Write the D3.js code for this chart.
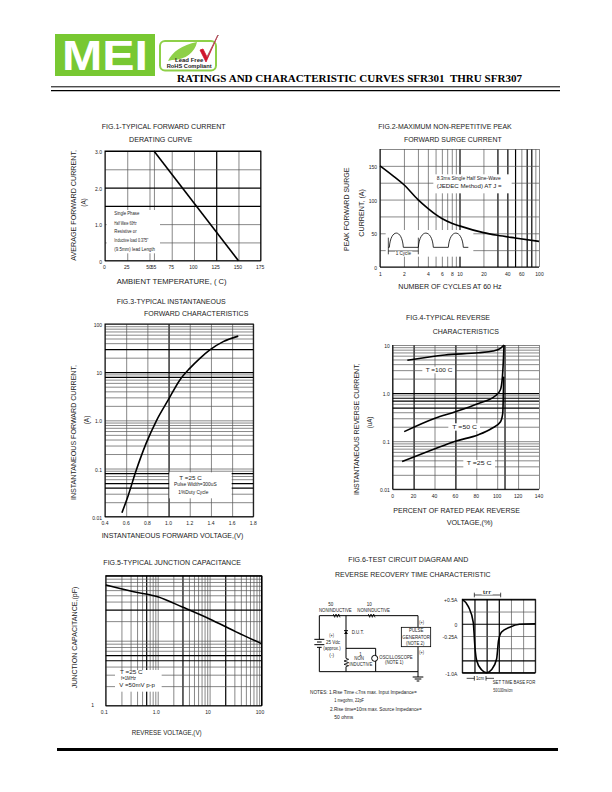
<!DOCTYPE html>
<html>
<head>
<meta charset="utf-8">
<title>SFR301 thru SFR307 curves</title>
<script src="https://cdn.jsdelivr.net/npm/d3@7"></script>
<style>
  html, body { margin: 0; padding: 0; background: #fff; }
  svg { display: block; }
  text { font-family: "Liberation Sans", Arial, sans-serif; fill: #222; }
</style>
</head>
<body>
<div id="page"></div>
<script>
// fig 1 - derating curve
var fig1Temp = [55, 150];
var fig1Amps = [3, 0];
var fig1GridX = [0, 25, 50, 55, 75, 100, 125, 150, 175];
var fig1BoldX = [125];
var fig1GridY = [0, 0.5, 1, 1.5, 2, 2.5, 3];
var fig1BoldY = [1.5, 2, 3];
var fig1TickX = [0, 25, 50, 55, 75, 100, 125, 150, 175];
var fig1TickXLabels = ["0", "25", "50", "55", "75", "100", "125", "150", "175"];
var fig1TickY = [0, 1, 2, 3];
var fig1TickYLabels = ["0", "1.0", "2.0", "3.0"];

// fig 2 - surge current
var fig2Cycles = [1, 1.5, 2, 3, 4, 5, 6, 8, 10, 20, 30, 50, 100];
var fig2Amps = [150, 134, 122, 100, 87, 78, 72, 65, 61, 51, 47, 43, 38];
var fig2GridX = [1, 2, 3, 4, 5, 6, 7, 8, 9, 10, 20, 30, 40, 50, 60, 70, 80, 90, 100];
var fig2BoldX = [10, 30, 40, 50, 70, 80];
var fig2GridY = [0, 25, 50, 75, 100, 125, 150, 175];
var fig2TickX = [1, 2, 4, 6, 8, 10, 20, 40, 60, 100];
var fig2TickY = [0, 50, 100, 150];

// fig 3 - forward characteristics
var fig3Volts = [0.56, 0.62, 0.69, 0.79, 0.885, 0.997, 1.107, 1.2, 1.296, 1.39, 1.516, 1.658];
var fig3Amps = [0.0121, 0.028, 0.0855, 0.34, 0.98, 2.65, 6.9, 12, 19.4, 29, 43, 56];
var fig3GridX = [0.4, 0.6, 0.8, 1.0, 1.2, 1.4, 1.6, 1.8];
var fig3BoldX = [1.0];
var fig3BoldY = [30, 10, 8, 0.08, 0.05, 0.04];
var fig3TickX = [0.4, 0.6, 0.8, 1.0, 1.2, 1.4, 1.6, 1.8];
var fig3TickY = [0.01, 0.1, 1, 10, 100];
var fig3TickYLabels = ["0.01", "0.1", "1.0", "10", "100"];

// fig 4 - reverse characteristics
var fig4Pct100 = [14, 50, 82, 96, 103, 106.5];
var fig4Cur100 = [4.8, 6.2, 6.9, 7.5, 8.5, 10];
var fig4Pct50 = [11, 40.5, 60, 82, 98, 103, 105, 106.2, 106.5];
var fig4Cur50 = [0.158, 0.3, 0.41, 0.61, 0.87, 1.16, 2.2, 6.7, 10];
var fig4Pct25 = [9, 40.5, 60, 82, 95, 103, 105.3, 106.2];
var fig4Cur25 = [0.0377, 0.07, 0.1, 0.136, 0.186, 0.25, 0.38, 2.2];
var fig4GridX = [0, 20, 40, 60, 80, 100, 107, 120, 140];
var fig4BoldX = [20, 60, 107];
var fig4BoldY = [1, 0.8, 0.7, 0.5];
var fig4TickX = [0, 20, 40, 60, 80, 100, 120, 140];
var fig4TickY = [0.01, 0.1, 1, 10];
var fig4TickYLabels = ["0.01", "0.1", "1.0", "10"];

// fig 5 - junction capacitance
var fig5Volts = [0.1, 0.345, 1, 3.07, 10, 31.6, 100];
var fig5Cap = [72, 56.7, 47.5, 32.6, 21.6, 13.8, 9];
var fig5BoldX = [0.6, 3, 20, 100];
var fig5BoldY = [100, 30, 6, 5];
var fig5TickX = [0.1, 1, 10, 100];
var fig5TickXLabels = ["0.1", "1.0", "10", "100"];

// fig 6 - reverse recovery waveform, time in divisions
var waveDiv = [0, 0.5, 0.9, 1.04, 1.18, 1.58, 2, 2.4, 2.82, 2.98, 3.23, 3.9, 4.7, 6];
var waveAmps = [0.5, 0.35, 0.03, -0.48, -0.75, -0.94, -1, -0.94, -0.72, -0.34, -0.17, -0.07, -0.01, 0];
var waveGridX = [0, 1, 2, 3, 4, 5, 6];
var waveBoldX = [1, 2, 3];
var waveGridY = [-1, -0.75, -0.5, -0.25, 0, 0.25, 0.5];
var waveBoldY = [-0.75, 0, 0.5, -1];
var waveTickY = [-1, -0.25, 0, 0.5];
var waveTickYLabels = ["-1.0A", "-0.25A", "0", "+0.5A"];

var logMinor = function (lo, hi) {
    var out = [];
    for (var dec = lo; dec < hi; dec *= 10) {
        for (var m = 1; m < 10; m++) out.push(dec * m);
    }
    out.push(hi);
    return out;
};

var svg = d3.select("#page").append("svg")
    .attr("width", 612)
    .attr("height", 792)
    .attr("viewBox", "0 0 612 792");

// text helpers - x, y given in zoomed reference units (1/3 px) from a figure origin
function label(o, x0, base, str, x1, size, weight) {
    var t = svg.append("text")
        .attr("x", o[0] + x0 / 3)
        .attr("y", o[1] + base / 3)
        .style("font-size", (size || 7) + "px")
        .text(str);
    if (weight) t.style("font-weight", weight);
    if (x1) t.attr("textLength", (x1 - x0) / 3).attr("lengthAdjust", "spacingAndGlyphs");
    return t;
}

function vlabel(o, cx, y0, y1, str, size) {
    var px = o[0] + cx / 3, py = o[1] + y0 / 3;
    svg.append("text")
        .attr("transform", "translate(" + px + "," + py + ") rotate(-90)")
        .attr("textLength", (y0 - y1) / 3)
        .attr("lengthAdjust", "spacingAndGlyphs")
        .style("font-size", (size || 8) + "px")
        .text(str);
}

// white patch behind notes
function mask(o, x0, y0, x1, y1) {
    svg.append("rect")
        .attr("x", o[0] + x0 / 3).attr("y", o[1] + y0 / 3)
        .attr("width", (x1 - x0) / 3).attr("height", (y1 - y0) / 3)
        .attr("fill", "#fff");
}

function drawGrid(x, y, gridX, gridY, boldX, boldY) {
    var r = y.range(), w = x.range()[1] - x.range()[0], h = r[0] - r[1];
    var isBold = function (list, d) {
        return list.some(function (b) { return Math.abs(b - d) < 1e-9; });
    };
    var gx = svg.append("g")
        .attr("transform", "translate(0," + r[0] + ")")
        .call(d3.axisBottom(x).tickValues(gridX).tickSize(-h).tickFormat("").tickSizeOuter(0));
    gx.select(".domain").remove();
    gx.selectAll("line")
        .attr("stroke", function (d) { return isBold(boldX, d) ? "#000" : "#555"; })
        .attr("stroke-width", function (d) { return isBold(boldX, d) ? 1.2 : 0.7; });
    var gy = svg.append("g")
        .attr("transform", "translate(" + x.range()[0] + ",0)")
        .call(d3.axisLeft(y).tickValues(gridY).tickSize(-w).tickFormat("").tickSizeOuter(0));
    gy.select(".domain").remove();
    gy.selectAll("line")
        .attr("stroke", function (d) { return isBold(boldY, d) ? "#000" : "#555"; })
        .attr("stroke-width", function (d) { return isBold(boldY, d) ? 1.2 : 0.7; });
}

function drawFrame(x, y) {
    svg.append("rect")
        .attr("x", x.range()[0]).attr("y", y.range()[1])
        .attr("width", x.range()[1] - x.range()[0])
        .attr("height", y.range()[0] - y.range()[1])
        .attr("fill", "none").attr("stroke", "#000").attr("stroke-width", 1);
}

function drawTicks(x, y, tickX, xLabels, tickY, yLabels, dx, dy) {
    var ax = svg.append("g")
        .attr("transform", "translate(" + dx + "," + y.range()[0] + ")")
        .call(d3.axisBottom(x).tickValues(tickX).tickSize(0).tickPadding(5)
            .tickFormat(function (d, i) { return xLabels[i]; }));
    var ay = svg.append("g")
        .attr("transform", "translate(" + (x.range()[0] - 3) + "," + dy + ")")
        .call(d3.axisLeft(y).tickValues(tickY).tickSize(0).tickPadding(0)
            .tickFormat(function (d, i) { return yLabels[i]; }));
    [ax, ay].forEach(function (g) {
        g.select(".domain").remove();
        g.selectAll("text").style("font-size", "5px").style("font-family", null).attr("fill", "#222");
    });
}

function drawCurve(x, y, xs, ys, curve) {
    var pts = d3.zip(xs, ys);
    svg.append("path")
        .attr("d", d3.line()
            .x(function (d) { return x(d[0]); })
            .y(function (d) { return y(d[1]); })
            .curve(curve || d3.curveMonotoneX)(pts))
        .attr("fill", "none")
        .attr("stroke", "#000")
        .attr("stroke-width", 1.6);
}

// header -------------------------------------------------------------
svg.append("rect").attr("x", 55).attr("y", 34).attr("width", 100).attr("height", 42).attr("fill", "#78c832");
svg.append("text").attr("x", 62).attr("y", 70)
    .attr("textLength", 86).attr("lengthAdjust", "spacingAndGlyphs")
    .style("font-size", "43px").style("font-weight", "bold").style("fill", "#fff").text("MEI");

svg.append("rect").attr("x", 160).attr("y", 41).attr("width", 56).attr("height", 29.5).attr("rx", 5)
    .attr("fill", "#fff").attr("stroke", "#8ed048").attr("stroke-width", 2);
svg.append("path").attr("d", "M168,61 C172,52 182,45 197,42 C195,52 186,60 172,60 Z").attr("fill", "#8ed048");
svg.append("path").attr("d", "M200,50 L206,62 L218,35 L207,57 L203,49 Z").attr("fill", "#d0142c").attr("stroke", "#d0142c").attr("stroke-width", 0.8);
svg.append("path").attr("d", "M207,57 L218,35 L219,36").attr("fill", "none").attr("stroke", "#888").attr("stroke-width", 0.6);
label([40, 20], 405, 125, "Lead Free", 490, 4.5, "bold");
label([40, 20], 380, 143, "RoHS Compliant", 515, 4.5, "bold");

svg.append("text").attr("x", 177).attr("y", 81.5)
    .attr("textLength", 345).attr("lengthAdjust", "spacingAndGlyphs")
    .style("font-family", "'Liberation Serif', 'Times New Roman', serif")
    .style("font-size", "9.7px").style("font-weight", "bold").style("fill", "#000")
    .text("RATINGS AND CHARACTERISTIC CURVES SFR301\u00a0 THRU SFR307");
[[86.8, 1], [90.6, 1.2]].forEach(function (d) {
    svg.append("line").attr("x1", 51).attr("x2", 560).attr("y1", d[0]).attr("y2", d[0])
        .attr("stroke", "#000").attr("stroke-width", d[1]);
});
svg.append("rect").attr("x", 57).attr("y", 748).attr("width", 501).attr("height", 3).attr("fill", "#000");

// fig 1 --------------------------------------------------------------
(function () {
    var o = [60, 115];
    var x = d3.scaleLinear().domain([0, 175]).range([105, 260.7]);
    var y = d3.scaleLinear().domain([0, 3]).range([260.7, 151]);
    drawGrid(x, y, fig1GridX, fig1GridY, fig1BoldX, fig1BoldY);
    mask(o, 140, 285, 300, 415);
    drawFrame(x, y);
    drawCurve(x, y, fig1Temp, fig1Amps, d3.curveLinear);
    drawTicks(x, y, fig1TickX, fig1TickXLabels, fig1TickY, fig1TickYLabels, -1, 1);
    label(o, 125, 42, "FIG.1-TYPICAL FORWARD CURRENT", 497);
    label(o, 207, 80, "DERATING CURVE", 397);
    vlabel(o, 48, 437, 105, "AVERAGE FORWARD CURRENT,");
    vlabel(o, 78, 275, 250, "(A)");
    label(o, 170, 507, "AMBIENT TEMPERATURE, (     C)", 500, 7.5);
    label(o, 163, 300, "Single Phase", 238, 4.5);
    label(o, 163, 329, "Half Wave 60Hz", 230, 4.5);
    label(o, 163, 355, "Resistive or", 230, 4.5);
    label(o, 163, 381, "Inductive load 0.375\"", 265, 4.5);
    label(o, 163, 407, "(9.5mm) lead Length", 285, 4.5);
})();

// fig 2 --------------------------------------------------------------
(function () {
    var o = [335, 115];
    var x = d3.scaleLog().domain([1, 100]).range([380, 539]);
    var y = d3.scaleLinear().domain([0, 175]).range([267, 149]);
    drawGrid(x, y, fig2GridX, fig2GridY, fig2BoldX, []);
    mask(o, 295, 178, 530, 235);
    mask(o, 152, 345, 415, 425);
    // top edge stays open in the reference, only left + bottom are ruled
    svg.append("line").attr("x1", 380).attr("x2", 380).attr("y1", 149).attr("y2", 267).attr("stroke", "#000");
    svg.append("line").attr("x1", 380).attr("x2", 539).attr("y1", 267).attr("y2", 267).attr("stroke", "#000");
    drawCurve(x, y, fig2Cycles, fig2Amps);
    drawTicks(x, y, fig2TickX, fig2TickX.map(String), fig2TickY, fig2TickY.map(String), 0, 1);
    label(o, 130, 42, "FIG.2-MAXIMUM NON-REPETITIVE PEAK", 530);
    label(o, 207, 80, "FORWARD SURGE CURRENT", 500);
    vlabel(o, 42, 408, 158, "PEAK FORWARD SURGE");
    vlabel(o, 86, 365, 222, "CURRENT, (A)");
    label(o, 190, 523, "NUMBER OF CYCLES AT 60 Hz", 500, 7.5);
    label(o, 305, 196, "8.3ms Single Half Sine-Wave", 497, 4.5);
    label(o, 305, 218, "(JEDEC Method)     AT      J  =", 500, 4.5);
    // half sine pictogram
    var px = function (v) { return o[0] + v / 3; }, py = function (v) { return o[1] + v / 3; };
    var sine = "M" + px(160) + "," + py(397) + " L" + px(163) + "," + py(397);
    [[163, 205], [250, 295], [340, 385]].forEach(function (h, i) {
        if (i) sine += " L" + px(h[0]) + "," + py(397);
        sine += " C" + px(h[0] + 4) + "," + py(340) + " " + px(h[1] - 4) + "," + py(340) + " " + px(h[1]) + "," + py(397);
    });
    sine += " L" + px(400) + "," + py(397);
    svg.append("path").attr("d", sine).attr("fill", "none").attr("stroke", "#000").attr("stroke-width", 0.8);
    svg.append("path")
        .attr("d", "M" + px(160) + "," + py(368) + " V" + py(418) + " M" + px(160) + "," + py(408) + " H" + px(250) + " M" + px(250) + "," + py(368) + " V" + py(418))
        .attr("fill", "none").attr("stroke", "#000").attr("stroke-width", 0.7);
    mask(o, 180, 409, 232, 422);
    label(o, 182, 419, "1 Cycle", 228, 4.5);
})();

// fig 3 --------------------------------------------------------------
(function () {
    var o = [60, 295];
    var x = d3.scaleLinear().domain([0.4, 1.8]).range([105, 253.3]);
    var y = d3.scaleLog().domain([0.01, 100]).range([516.7, 324]);
    drawGrid(x, y, fig3GridX, logMinor(0.01, 100), fig3BoldX, fig3BoldY);
    mask(o, 328, 532, 515, 610);
    drawFrame(x, y);
    drawCurve(x, y, fig3Volts, fig3Amps);
    drawTicks(x, y, fig3TickX, fig3TickX.map(function (d) { return d.toFixed(1); }), fig3TickY, fig3TickYLabels, -0.5, 1);
    label(o, 170, 28, "FIG.3-TYPICAL INSTANTANEOUS", 497);
    label(o, 252, 62, "FORWARD CHARACTERISTICS", 565);
    vlabel(o, 48, 615, 210, "INSTANTANEOUS FORWARD CURRENT,");
    vlabel(o, 88, 388, 362, "(A)");
    label(o, 125, 728, "INSTANTANEOUS FORWARD VOLTAGE,(V)", 550, 7.5);
    label(o, 358, 556, "T =25     C", 425, 4.5);
    label(o, 342, 574, "Pulse Width=300uS", 470, 4.5);
    label(o, 355, 596, "1%Duty Cycle", 445, 4.5);
})();

// fig 4 --------------------------------------------------------------
(function () {
    var o = [345, 310];
    var x = d3.scaleLinear().domain([0, 140]).range([392.7, 539]);
    var y = d3.scaleLog().domain([0.01, 10]).range([489.3, 345]);
    drawGrid(x, y, fig4GridX, logMinor(0.01, 10), fig4BoldX, fig4BoldY);
    mask(o, 232, 170, 330, 190);
    mask(o, 310, 340, 405, 362);
    mask(o, 355, 450, 450, 475);
    svg.append("line").attr("x1", 392.7).attr("x2", 392.7).attr("y1", 345).attr("y2", 489.3).attr("stroke", "#000");
    svg.append("line").attr("x1", 392.7).attr("x2", 539).attr("y1", 489.3).attr("y2", 489.3).attr("stroke", "#000");
    drawCurve(x, y, fig4Pct100, fig4Cur100);
    drawCurve(x, y, fig4Pct50, fig4Cur50);
    drawCurve(x, y, fig4Pct25, fig4Cur25);
    drawTicks(x, y, fig4TickX, fig4TickX.map(String), fig4TickY, fig4TickYLabels, -0.5, 1);
    label(o, 183, 30, "FIG.4-TYPICAL REVERSE", 435);
    label(o, 263, 72, "CHARACTERISTICS", 462);
    vlabel(o, 42, 555, 160, "INSTANTANEOUS REVERSE CURRENT,");
    vlabel(o, 82, 355, 320, "(uA)");
    label(o, 145, 610, "PERCENT OF RATED PEAK REVERSE", 525, 7.5);
    label(o, 305, 645, "VOLTAGE,(%)", 443, 7.5);
    label(o, 242, 185, "T =100    C", 322, 4.5);
    label(o, 322, 356, "T =50     C", 396, 4.5);
    label(o, 365, 466, "T =25     C", 440, 4.5);
})();

// fig 5 --------------------------------------------------------------
(function () {
    var o = [60, 550];
    var x = d3.scaleLog().domain([0.1, 100]).range([105.8, 261.5]);
    var y = d3.scaleLog().domain([1, 100]).range([705.7, 575.7]);
    drawGrid(x, y, logMinor(0.1, 100), logMinor(1, 100), fig5BoldX, fig5BoldY);
    mask(o, 165, 360, 305, 425);
    drawFrame(x, y);
    drawCurve(x, y, fig5Volts, fig5Cap);
    drawTicks(x, y, fig5TickX, fig5TickXLabels, [], [], -2, 0);
    label(o, 94, 472, "1", null, 5);
    label(o, 130, 45, "FIG.5-TYPICAL JUNCTION CAPACITANCE", 543);
    vlabel(o, 52, 415, 110, "JUNCTION CAPACITANCE,(pF)");
    label(o, 215, 555, "REVRESE VOLTAGE,(V)", 425, 7.5);
    label(o, 180, 373, "T =25     C", 248, 4.5);
    label(o, 183, 389, "f=1MHz", 228, 4.5);
    label(o, 178, 411, "V    =50mV  p-p", 285, 4.5);
})();

// fig 6 circuit ------------------------------------------------------
(function () {
    var o = [300, 550];
    var p = function (v) { return o[0] + v / 3; }, q = function (v) { return o[1] + v / 3; };
    var wire = function (pts, w) {
        svg.append("path")
            .attr("d", d3.line().x(function (d) { return p(d[0]); }).y(function (d) { return q(d[1]); })(pts))
            .attr("fill", "none").attr("stroke", "#000").attr("stroke-width", w || 1);
    };
    label(o, 145, 35, "FIG.6-TEST CIRCUIT DIAGRAM AND", 505);
    label(o, 105, 80, "REVERSE RECOVERY TIME CHARACTERISTIC", 572);

    wire([[58, 268], [58, 197], [354, 197], [354, 232]]);
    wire([[58, 292], [58, 365], [354, 365]]);
    wire([[138, 197], [138, 325]]);
    wire([[138, 350], [138, 365]]);
    wire([[138, 295], [227, 295], [227, 365]]);
    wire([[354, 290], [354, 381]]);
    // resistors sit on the top wire
    wire([[100, 192], [104, 202], [108, 192], [112, 202], [116, 192], [120, 202]], 0.8);
    wire([[205, 192], [209, 202], [213, 192], [217, 202], [221, 192], [225, 202]], 0.8);
    // battery
    wire([[43, 268], [73, 268]]);
    wire([[51, 276], [65, 276]]);
    wire([[43, 284], [73, 284]]);
    wire([[51, 292], [65, 292]]);
    // diode
    svg.append("path").attr("d", "M" + p(132) + "," + q(252) + " L" + p(144) + "," + q(252) + " L" + p(138) + "," + q(243) + " Z").attr("fill", "#000");
    wire([[132, 242], [144, 242]]);
    // coil
    wire([[138, 325], [146, 328], [132, 333], [146, 338], [132, 343], [146, 347], [138, 350]], 0.8);
    // scope symbol
    svg.append("circle").attr("cx", p(224)).attr("cy", q(325)).attr("r", 3).attr("fill", "#fff").attr("stroke", "#000");
    // ground
    wire([[338, 381], [370, 381]]);
    wire([[344, 387], [364, 387]]);
    wire([[350, 393], [358, 393]]);
    // pulse generator
    svg.append("rect").attr("x", p(304)).attr("y", q(232)).attr("width", 88 / 3).attr("height", 58 / 3)
        .attr("fill", "#fff").attr("stroke", "#000").attr("stroke-width", 0.8);

    label(o, 85, 168, "50", null, 4.5);
    label(o, 57, 185, "NONINDUCTIVE", 155, 4.5);
    label(o, 200, 168, "10", null, 4.5);
    label(o, 172, 185, "NONINDUCTIVE", 270, 4.5);
    label(o, 358, 222, "(+)", 372, 4.5);
    label(o, 88, 262, "(+)", 102, 4.5);
    label(o, 78, 282, "25 Vdc", 120, 4.5);
    label(o, 70, 300, "(approx.)", 122, 4.5);
    label(o, 88, 320, "(-)", 102, 4.5);
    label(o, 155, 252, "D.U.T.", 192, 4.5);
    label(o, 178, 318, "1", null, 4.5);
    label(o, 163, 331, "NON", 192, 4.5);
    label(o, 148, 349, "INDUCTIVE", 217, 4.5);
    label(o, 238, 326, "OSCILLOSCOPE", 338, 4.5);
    label(o, 255, 343, "(NOTE 1)", 310, 4.5);
    label(o, 327, 247, "PULSE", 370, 4.5);
    label(o, 307, 266, "GENERATOR", 390, 4.5);
    label(o, 318, 285, "(NOTE 2)", 373, 4.5);
    label(o, 358, 312, "(+)", 372, 4.5);
    label(o, 30, 433, "NOTES: 1.Rise Time \u22647ns max. Input Impedance=", 350, 4.6);
    label(o, 103, 456, "1 megohm, 22pF", 192, 4.6);
    label(o, 90, 484, "2.Rise time=10ns max. Source Impedance=", 365, 4.6);
    label(o, 103, 508, "50 ohms", 160, 4.6);
})();

// fig 6 waveform -----------------------------------------------------
(function () {
    var o = [430, 580];
    var x = d3.scaleLinear().domain([0, 6]).range([462.3, 535.3]);
    var y = d3.scaleLinear().domain([-1, 0.5]).range([672.7, 599.3]);
    drawGrid(x, y, waveGridX, waveGridY, waveBoldX, waveBoldY);
    drawFrame(x, y);
    drawCurve(x, y, waveDiv, waveAmps);
    var ay = svg.append("g")
        .attr("transform", "translate(" + (x.range()[0] - 5) + ",1)")
        .call(d3.axisLeft(y).tickValues(waveTickY).tickSize(0).tickPadding(0)
            .tickFormat(function (d, i) { return waveTickYLabels[i]; }));
    ay.select(".domain").remove();
    ay.selectAll("text").style("font-size", "5px").attr("fill", "#222");

    var p = function (v) { return o[0] + v / 3; }, q = function (v) { return o[1] + v / 3; };
    svg.append("path")
        .attr("d", "M" + p(133) + "," + q(38) + " V" + q(52) + " M" + p(133) + "," + q(45) + " H" + p(212) + " M" + p(212) + "," + q(38) + " V" + q(52)
            + " M" + p(110) + "," + q(295) + " H" + p(133) + " M" + p(133) + "," + q(288) + " V" + q(302)
            + " M" + p(168) + "," + q(288) + " V" + q(302) + " M" + p(168) + "," + q(295) + " H" + p(192))
        .attr("fill", "none").attr("stroke", "#000").attr("stroke-width", 0.7);
    mask(o, 155, 32, 188, 44);
    label(o, 158, 42, "trr", 184, 4.5);
    label(o, 138, 299, "1cm", 162, 4.5);
    label(o, 188, 312, "SET TIME BASE FOR", 316, 4.5);
    label(o, 190, 335, "50/100ns/cm", 248, 4.5);
})();
</script>
</body>
</html>
